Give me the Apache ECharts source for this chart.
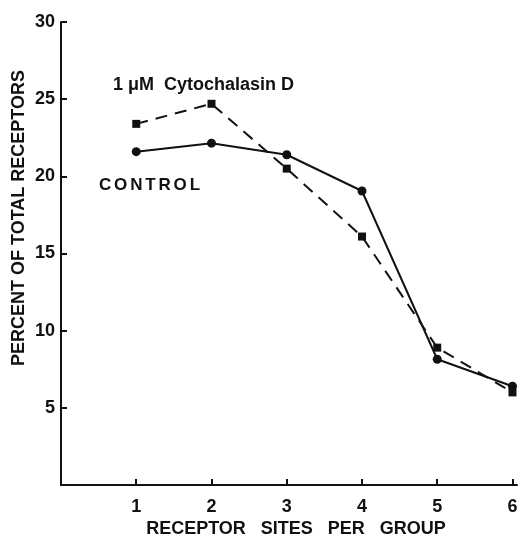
<!DOCTYPE html>
<html>
<head>
<meta charset="utf-8">
<script src="https://cdn.jsdelivr.net/npm/echarts@6/dist/echarts.min.js"></script>
<style>
  html, body { margin: 0; padding: 0; background: #fff; }
  #chart { width: 524px; height: 540px; }
</style>
</head>
<body>
<div id="chart"></div>
<script>
// Receptor sites per group (x) and percent of total receptors (y)
const sitesPerGroup = [1, 2, 3, 4, 5, 6];
const controlPct = [21.6, 22.15, 21.4, 19.05, 8.15, 6.4];
const cytochalasinPct = [23.4, 24.7, 20.5, 16.1, 8.9, 6.0];
const yTicks = [5, 10, 15, 20, 25, 30];

const font = '"Liberation Sans", Arial, Helvetica, sans-serif';
const ink = '#111';

const pairs = (xs, ys) => xs.map((x, i) => [x, ys[i]]);

const chart = echarts.init(document.getElementById('chart'), null, { renderer: 'canvas' });

chart.setOption({
  backgroundColor: '#fff',
  animation: false,
  grid: { left: 61, right: 7, top: 22, bottom: 55, containLabel: false, outerBoundsMode: 'none' },
  xAxis: {
    type: 'value',
    min: 0,
    max: 6.06,
    interval: 1,
    splitLine: { show: false },
    axisLine: { lineStyle: { color: ink, width: 2 } },
    axisTick: { inside: true, length: 6, lineStyle: { color: ink, width: 2 } },
    axisLabel: {
      margin: 13,
      color: ink,
      fontFamily: font,
      fontWeight: 'bold',
      fontSize: 18,
      showMaxLabel: false,
      formatter: v => (sitesPerGroup.indexOf(v) >= 0 ? String(v) : '')
    }
  },
  yAxis: {
    type: 'value',
    min: 0,
    max: 30,
    interval: 5,
    splitLine: { show: false },
    axisLine: { lineStyle: { color: ink, width: 2 } },
    axisTick: { inside: true, length: 6, lineStyle: { color: ink, width: 2 } },
    axisLabel: {
      margin: 6,
      color: ink,
      fontFamily: font,
      fontWeight: 'bold',
      fontSize: 18,
      formatter: v => (yTicks.indexOf(v) >= 0 ? String(v) : '')
    }
  },
  graphic: [
    // axis titles
    {
      type: 'text',
      x: 296,
      y: 529,
      style: {
        text: 'RECEPTOR   SITES   PER   GROUP',
        fill: ink,
        font: 'bold 18px ' + font,
        align: 'center',
        verticalAlign: 'middle'
      }
    },
    {
      type: 'text',
      x: 19,
      y: 218,
      rotation: Math.PI / 2,
      style: {
        text: 'PERCENT OF TOTAL RECEPTORS',
        fill: ink,
        font: 'bold 18px ' + font,
        align: 'center',
        verticalAlign: 'middle'
      }
    },
    // series annotations
    {
      type: 'text',
      left: 113,
      top: 76,
      style: {
        text: '1 \u03bcM  Cytochalasin D',
        fill: ink,
        font: 'bold 18px ' + font
      }
    },
    {
      type: 'text',
      left: 99,
      top: 177,
      style: {
        text: 'C\u2006O\u2006N\u2006T\u2006R\u2006O\u2006L',
        fill: ink,
        font: 'bold 17px ' + font
      }
    }
  ],
  series: [
    {
      name: 'Control',
      type: 'line',
      data: pairs(sitesPerGroup, controlPct),
      symbol: 'circle',
      symbolSize: 9,
      itemStyle: { color: ink },
      lineStyle: { color: ink, width: 2 }
    },
    {
      name: '1 \u03bcM Cytochalasin D',
      type: 'line',
      data: pairs(sitesPerGroup, cytochalasinPct),
      symbol: 'rect',
      symbolSize: 8,
      itemStyle: { color: ink },
      lineStyle: { color: ink, width: 2, type: [12, 8] }
    }
  ]
});
</script>
</body>
</html>
